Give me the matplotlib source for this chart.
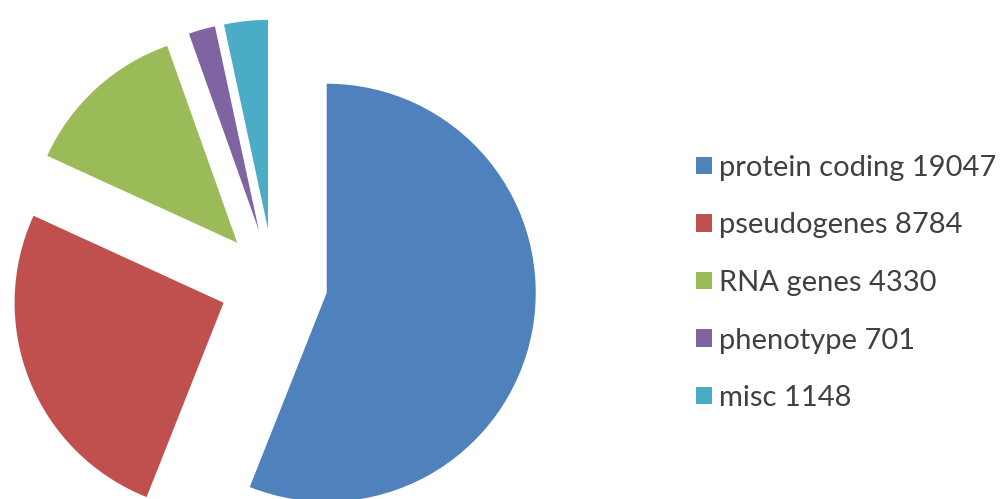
import matplotlib.pyplot as plt
from matplotlib.patches import Patch

# gene categories and counts
categories = ["protein coding", "pseudogenes", "RNA genes", "phenotype", "misc"]
counts = [19047, 8784, 4330, 701, 1148]
colors = ["#4F81BD", "#C0504D", "#9BBB59", "#8064A2", "#4BACC6"]

W, H = 1001, 499
fig = plt.figure(figsize=(W / 100, H / 100), dpi=100)
ax = fig.add_axes([0, 0, 1, 1])

# pie in pixel units, every slice pulled out the same distance
radius = 209
gap = 54
ax.pie(counts, colors=colors, radius=radius, center=(273.7, H - 282.6),
       startangle=90, counterclock=False, explode=[gap] * len(counts),
       wedgeprops=dict(linewidth=0))
ax.set_xlim(0, W)
ax.set_ylim(0, H)
ax.set_aspect("equal")
ax.axis("off")

labels = [f"{c} {n}" for c, n in zip(categories, counts)]
handles = [Patch(facecolor=c, edgecolor="none") for c in colors]
leg = ax.legend(handles, labels, loc="upper left",
                bbox_to_anchor=(696 / W, 1 - 155 / H),
                frameon=False, prop=dict(family="Lato", size=21),
                handlelength=0.55, handleheight=0.55, handletextpad=0.25,
                labelspacing=1.08, borderaxespad=0, borderpad=0)
for t in leg.get_texts():
    t.set_color("#404040")

fig.savefig("out.png", dpi=100)
